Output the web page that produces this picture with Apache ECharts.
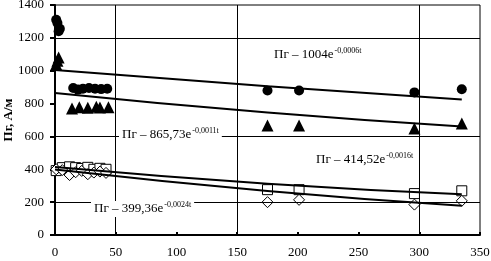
<!DOCTYPE html>
<html>
<head>
<meta charset="utf-8">
<script src="https://cdn.jsdelivr.net/npm/echarts@6/dist/echarts.min.js"></script>
<style>
  html, body { margin: 0; padding: 0; background: #fff; }
  #chart { width: 491px; height: 261px; }
</style>
</head>
<body>
<div id="chart"></div>
<script>
// time t, value Пг (A/m) per sample group
const circleT = [1, 2, 3, 4, 15, 19, 23, 28, 33, 38, 43, 175, 201, 296, 335]
const circleV = [1310, 1290, 1240, 1255, 895, 885, 890, 895, 890, 888, 890, 880, 880, 868, 887]
const triT = [1, 2, 3, 14, 20, 27, 34, 37, 44, 175, 201, 296, 335]
const triV = [1040, 1060, 1080, 770, 778, 775, 780, 776, 778, 667, 666, 648, 679]
const squareT = [1, 6, 12, 17, 22, 27, 32, 37, 42, 175, 201, 296, 335]
const squareV = [392, 410, 415, 410, 405, 412, 400, 406, 400, 276, 276, 252, 269]
const diamondT = [1, 6, 12, 17, 22, 27, 32, 37, 42, 175, 201, 296, 335]
const diamondV = [400, 395, 365, 382, 390, 370, 380, 386, 378, 200, 214, 185, 208]

// trend lines
const trendT = [0, 175, 335]
const trend1 = [1004, 905, 825]
const trend2 = [865, 745, 660]
const trend3 = [414, 312, 248]
const trend4 = [399, 268, 178]

const eqLabels = [
  { base: 'Пг – 1004e', exp: '-0,0006t' },
  { base: 'Пг – 865,73e', exp: '-0,0011t' },
  { base: 'Пг – 414,52e', exp: '-0,0016t' },
  { base: 'Пг – 399,36e', exp: '-0,0024t' }
]

const xGrid = [50, 150, 300]
const yGrid = [200, 600, 1200]

const pair = (xs, ys) => xs.map((x, i) => [x, ys[i]])

const font = 'Liberation Serif, Times New Roman, serif'
const chart = echarts.init(document.getElementById('chart'))

const labelPos = [
  { left: 271, top: 47 },
  { left: 119, top: 127 },
  { left: 313, top: 152 },
  { left: 91, top: 201 }
]

const trendSeries = [trend1, trend2, trend3, trend4].map((tr) => ({
  type: 'line',
  data: pair(trendT, tr),
  smooth: true,
  symbol: 'none',
  lineStyle: { color: '#000', width: 2 },
  z: 5
}))

const option = {
  animation: false,
  backgroundColor: '#fff',
  grid: {
    left: 55,
    right: 11,
    top: 5,
    bottom: 26,
    containLabel: false,
    outerBoundsMode: 'none',
    show: true,
    borderColor: '#000',
    borderWidth: 1
  },
  xAxis: {
    type: 'value',
    min: 0,
    max: 350,
    interval: 50,
    axisLine: { lineStyle: { color: '#000', width: 2 } },
    axisTick: { inside: true, length: 3, lineStyle: { color: '#000', width: 2 } },
    axisLabel: { color: '#000', fontFamily: font, fontSize: 13, margin: 11 },
    splitLine: { show: false }
  },
  yAxis: {
    type: 'value',
    min: 0,
    max: 1400,
    interval: 200,
    name: 'Пг, А/м',
    nameLocation: 'middle',
    nameGap: 40,
    nameMoveOverlap: false,
    nameTextStyle: { color: '#000', fontFamily: font, fontSize: 13, fontWeight: 'bold' },
    axisLine: { lineStyle: { color: '#000', width: 2 } },
    axisTick: { length: 5, lineStyle: { color: '#000', width: 2 } },
    axisLabel: { color: '#000', fontFamily: font, fontSize: 13, margin: 11, formatter: (v) => String(v) },
    splitLine: { show: false }
  },
  graphic: eqLabels.map((l, i) => ({
    type: 'text',
    left: labelPos[i].left,
    top: labelPos[i].top,
    z: 100,
    style: {
      text: '{a|' + l.base + '}{b|' + l.exp + '}',
      backgroundColor: '#fff',
      padding: [0, 3],
      rich: {
        a: { fontFamily: font, fontSize: 13, color: '#000' },
        b: { fontFamily: font, fontSize: 8, color: '#000', padding: [0, 0, 8, 1] }
      }
    }
  })),
  series: [
    {
      type: 'line',
      data: [],
      silent: true,
      z: 1,
      markLine: {
        silent: true,
        symbol: 'none',
        label: { show: false },
        lineStyle: { color: '#000', width: 1, type: 'solid' },
        data: xGrid.map((v) => ({ xAxis: v })).concat(yGrid.map((v) => ({ yAxis: v })))
      }
    },
    {
      type: 'scatter',
      data: pair(circleT, circleV),
      symbol: 'circle',
      symbolSize: 10,
      itemStyle: { color: '#000', opacity: 1 },
      z: 3
    },
    {
      type: 'scatter',
      data: pair(triT, triV),
      symbol: 'triangle',
      symbolSize: 12,
      itemStyle: { color: '#000', opacity: 1 },
      z: 3
    },
    {
      type: 'scatter',
      data: pair(squareT, squareV),
      symbol: 'rect',
      symbolSize: 10,
      itemStyle: { color: '#fff', borderColor: '#000', borderWidth: 1, opacity: 1 },
      z: 3
    },
    {
      type: 'scatter',
      data: pair(diamondT, diamondV),
      symbol: 'diamond',
      symbolSize: [11, 11],
      itemStyle: { color: '#fff', borderColor: '#000', borderWidth: 1, opacity: 1 },
      z: 3
    }
  ].concat(trendSeries)
}

chart.setOption(option)
</script>
</body>
</html>
